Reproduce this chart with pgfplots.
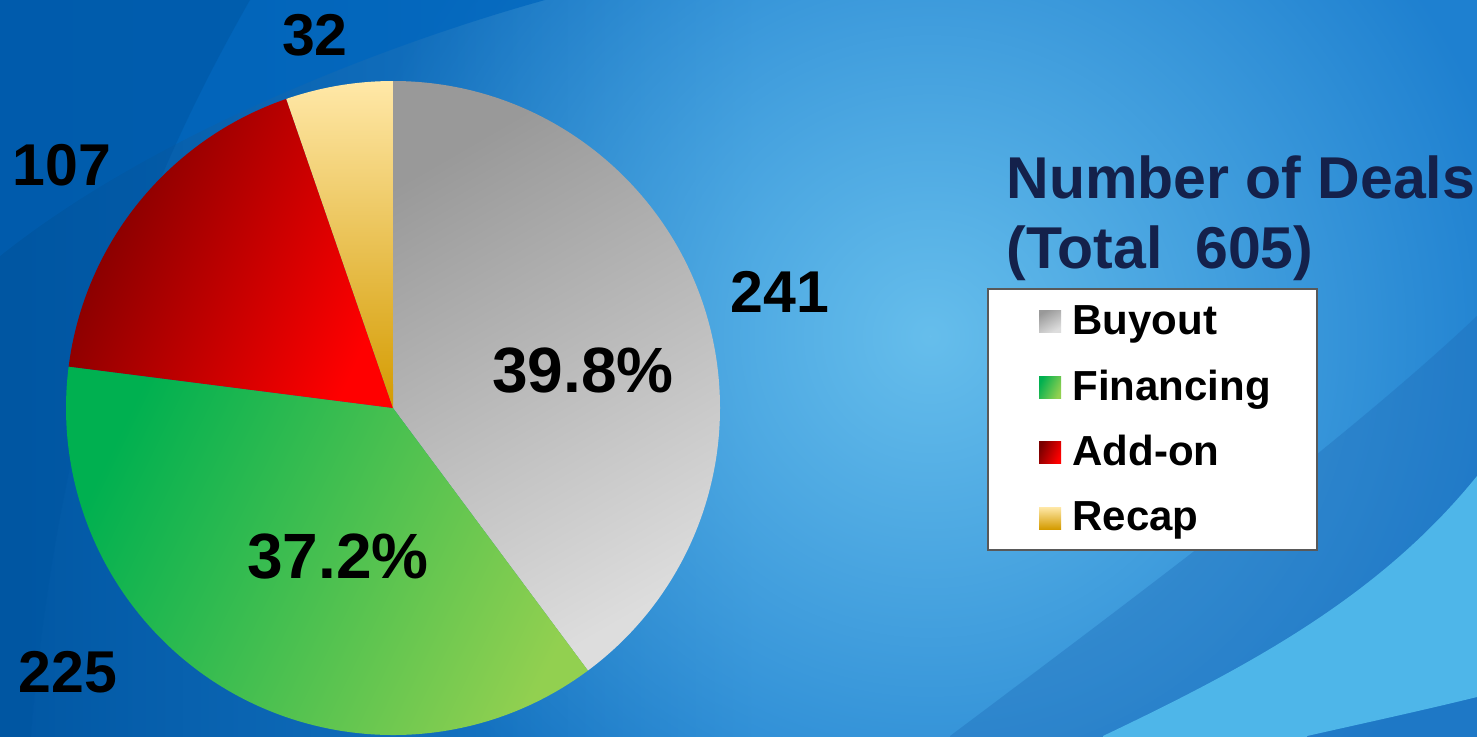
\documentclass[border=0pt]{standalone}
\usepackage{pgfplots}
\pgfplotsset{compat=1.18}
\usepackage{pgfplotstable}
\usetikzlibrary{fadings}
\tikzfading[name=myfadeout, inner color=transparent!0, outer color=transparent!100]
\usepackage{fontspec}
\setmainfont{Liberation Sans}
\definecolor{bgbase}{HTML}{1E80D0}
\definecolor{bgin}{HTML}{66BEEC}
\definecolor{bgleft}{HTML}{0056A2}
\definecolor{bgtop}{HTML}{0066BE}
\definecolor{bgswoosh}{HTML}{4EB6E9}
\definecolor{bgband}{HTML}{1F6CB8}
\definecolor{navy}{HTML}{14214B}
\definecolor{gyD}{HTML}{999999}
\definecolor{gyL}{HTML}{DDDDDD}
\definecolor{grD}{HTML}{00B050}
\definecolor{grL}{HTML}{92D050}
\definecolor{rdD}{HTML}{7A0000}
\definecolor{rdL}{HTML}{FF0000}
\definecolor{ylL}{HTML}{FFE8A8}
\definecolor{ylD}{HTML}{D49B00}
\pgfplotstableread{
label value
Buyout 241
Financing 225
Addon 107
Recap 32
}\dealtbl
\pgfplotstablegetelem{0}{value}\of\dealtbl \let\vA\pgfplotsretval
\pgfplotstablegetelem{1}{value}\of\dealtbl \let\vB\pgfplotsretval
\pgfplotstablegetelem{2}{value}\of\dealtbl \let\vC\pgfplotsretval
\pgfplotstablegetelem{3}{value}\of\dealtbl \let\vD\pgfplotsretval
\pgfmathsetmacro\tot{\vA+\vB+\vC+\vD}
\pgfmathsetmacro\aA{90-360*(\vA/\tot)}
\pgfmathsetmacro\aB{\aA-360*(\vB/\tot)}
\pgfmathsetmacro\aC{\aB-360*(\vC/\tot)}
\pgfmathsetmacro\aD{\aC-360*(\vD/\tot)}
\newcommand\bigf{\fontsize{29.5pt}{34pt}\selectfont\bfseries}
\newcommand\pctf{\fontsize{32pt}{36pt}\selectfont\bfseries}
\newcommand\legf{\fontsize{21pt}{24pt}\selectfont\bfseries}
\newcommand\slice[3]{%
  \shade[#3] (axis cs:393,328) -- ([shift={(#1:163.5pt)}]axis cs:393,328)
     arc[start angle=#1, end angle=#2, radius=163.5pt] -- cycle;}
\begin{document}
\begin{tikzpicture}
\begin{axis}[scale only axis, width=738.5pt, height=368pt,
  xmin=0, xmax=1477, ymin=0, ymax=736, hide axis, clip=false]
% background
\begin{scope}[overlay]
\clip (axis cs:0,0) rectangle (axis cs:1477,736);
\fill[bgbase] (axis cs:-10,-10) rectangle (axis cs:1487,746);
\shade[left color=bgleft, right color=bgbase] (axis cs:-10,-10) rectangle (axis cs:760,746);
\fill[bgin, path fading=myfadeout] (axis cs:930,400) circle[radius=300pt];
% top-left darker region above swoosh
\fill[bgtop, opacity=0.75] (axis cs:-10,746) -- (axis cs:545,746) -- (axis cs:545,736) .. controls (axis cs:380,690) and (axis cs:150,600) .. (axis cs:0,480) -- (axis cs:-10,480) -- cycle;
\fill[bgleft, opacity=0.5] (axis cs:-10,746) -- (axis cs:250,746) -- (axis cs:250,736) .. controls (axis cs:150,560) and (axis cs:60,350) .. (axis cs:30,-10) -- (axis cs:-10,-10) -- cycle;
% bottom-right darker band
\fill[bgband, opacity=0.38] (axis cs:950,-10) -- (axis cs:950,0) .. controls (axis cs:1150,150) and (axis cs:1350,300) .. (axis cs:1477,420) -- (axis cs:1487,420) -- (axis cs:1487,-10) -- cycle;
% light swoosh bottom right
\fill[bgswoosh] (axis cs:1103,-10) -- (axis cs:1103,0) .. controls (axis cs:1250,70) and (axis cs:1380,140) .. (axis cs:1477,260) -- (axis cs:1477,39) .. controls (axis cs:1420,25) and (axis cs:1360,12) .. (axis cs:1307,0) -- (axis cs:1307,-10) -- cycle;
\end{scope}
% pie
\slice{90}{\aA}{top color=gyD, bottom color=gyL, shading angle=30}
\slice{\aA}{\aB}{left color=grD, right color=grL, shading angle=64}
\slice{\aB}{\aC}{left color=rdD, right color=rdL, shading angle=66}
\slice{\aC}{\aD}{top color=ylL, bottom color=ylD}
% labels
\node[font=\bigf] at (axis cs:780,444) {241};
\node[font=\bigf] at (axis cs:68,64) {225};
\node[font=\bigf] at (axis cs:62,571) {107};
\node[font=\bigf] at (axis cs:315,701) {32};
\node[font=\pctf] at (axis cs:583,365) {39.8\%};
\node[font=\pctf] at (axis cs:338,179) {37.2\%};
% title
\node[font=\bigf, text=navy, anchor=base west, inner sep=0] at (axis cs:1006,538) {Number of Deals};
\node[font=\bigf, text=navy, anchor=base west, inner sep=0] at (axis cs:1006,468) {(Total\ \ 605)};
% legend
\fill[white, draw=black!65, line width=0.8pt] (axis cs:988,186) rectangle (axis cs:1317,447);
\shade[top color=gyD, bottom color=gyL, shading angle=30] (axis cs:1039,404) rectangle (axis cs:1061,426);
\shade[left color=grD, right color=grL, shading angle=64] (axis cs:1039,338) rectangle (axis cs:1061,360);
\shade[left color=rdD, right color=rdL, shading angle=66] (axis cs:1039,273) rectangle (axis cs:1061,295);
\shade[top color=ylL, bottom color=ylD] (axis cs:1039,207) rectangle (axis cs:1061,229);
\node[font=\legf, anchor=base west, inner sep=0] at (axis cs:1072,402) {Buyout};
\node[font=\legf, anchor=base west, inner sep=0] at (axis cs:1072,336) {Financing};
\node[font=\legf, anchor=base west, inner sep=0] at (axis cs:1072,271) {Add-on};
\node[font=\legf, anchor=base west, inner sep=0] at (axis cs:1072,206) {Recap};
\end{axis}
\pgfresetboundingbox
\useasboundingbox (current axis.south west) rectangle (current axis.north east);
\end{tikzpicture}
\end{document}
